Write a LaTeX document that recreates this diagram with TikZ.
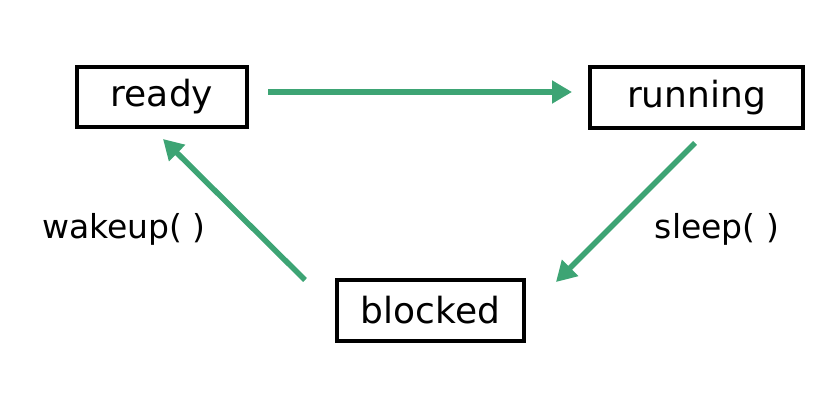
\documentclass[tikz,border=0pt]{standalone}
\usepackage{fontspec}
\setmainfont{DejaVu Sans}
\usetikzlibrary{arrows.meta}
\definecolor{transgreen}{RGB}{61,164,116}
\tikzset{state/.style={draw=black, line width=3.5pt, inner sep=0pt, font=\fontsize{36}{40}\selectfont}}
\tikzset{trans/.style={draw=transgreen, line width=5.5pt, -{Triangle[length=20pt, width=22pt]}}}
\tikzset{label/.style={font=\fontsize{33}{37}\selectfont}}
\begin{document}
\begin{tikzpicture}[x=1pt, y=-1pt]
            \useasboundingbox (0, 0) rectangle (838, 412);
            \node[state, minimum width=170pt, minimum height=60pt] (ready) at (162, 97) {ready};
            \node[state, minimum width=213pt, minimum height=61pt] (running) at (696.5, 97.5) {running};
            \node[state, minimum width=187pt, minimum height=61pt] (blocked) at (430.5, 310.5) {blocked};
            \coordinate (readyout) at (268, 92);
            \coordinate (runningin) at (572, 92);
            \coordinate (runningout) at (695, 143);
            \coordinate (blockedin) at (556, 282);
            \coordinate (blockedout) at (305, 280);
            \coordinate (readyin) at (163, 139);
            \draw[trans] (readyout) -- (runningin);
            \draw[trans] (runningout) -- (blockedin);
            \draw[trans] (blockedout) -- (readyin);
            \node[label] (wakeup) at (124, 229) {wakeup( )};
            \node[label] (sleep) at (717, 229) {sleep( )};
        \end{tikzpicture}
\end{document}
